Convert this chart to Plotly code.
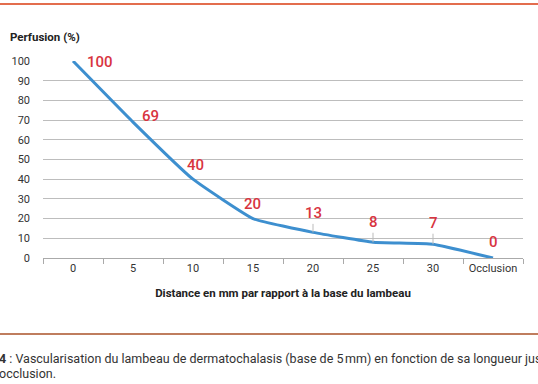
import plotly.graph_objects as go

categories = ["0", "5", "10", "15", "20", "25", "30", "Occlusion"]
perfusion = [100, 69, 40, 20, 13, 8, 7, 0]
y_ticks = [0, 10, 20, 30, 40, 50, 60, 70, 80, 90, 100]

W, H = 538, 384
L, R, T, B = 43, 15, 61, 126


def px_x(p):
    return (p - L) / (W - L - R)


def px_y(p):
    return (H - B - p) / (H - T - B)


fig = go.Figure()
fig.add_trace(go.Scatter(
    x=categories, y=perfusion, mode="lines",
    line=dict(color="#3d8fcf", width=3, shape="spline", smoothing=0.35),
    hoverinfo="skip", showlegend=False,
))

red = "#d8343f"
lbl_font = dict(family="Roboto", size=15, color=red, weight=500)
# labels offset to the right (no leader)
offsets = [(27, -1), (17, 6), (2, 14), (-1, 15)]
for i in range(4):
    fig.add_annotation(x=i, y=perfusion[i], xref="x", yref="y",
                       text=str(perfusion[i]), showarrow=False, font=lbl_font,
                       xshift=offsets[i][0], yshift=offsets[i][1])
# labels directly above with small grey leader
for i, ay in zip(range(4, 7), [-19, -20, -21]):
    fig.add_annotation(x=i, y=perfusion[i], xref="x", yref="y",
                       text=str(perfusion[i]), showarrow=True, arrowhead=0,
                       arrowwidth=1, arrowcolor="#bbbbbb", ax=0, ay=ay,
                       standoff=0, font=lbl_font)
fig.add_annotation(x=7, y=perfusion[7], xref="x", yref="y",
                   text=str(perfusion[7]), showarrow=False, font=lbl_font,
                   yshift=16)

# y-axis title
fig.add_annotation(x=px_x(8), y=px_y(37), xref="paper", yref="paper",
                   text="<b>Perfusion (%)</b>",
                   showarrow=False, xanchor="left", yanchor="middle",
                   font=dict(family="Roboto", size=11.5, color="#222"))

fig.update_layout(
    width=W, height=H, margin=dict(l=L, r=R, t=T, b=B),
    paper_bgcolor="white", plot_bgcolor="white",
    xaxis=dict(type="category", tickson="boundaries", ticks="outside", ticklen=5,
               tickcolor="#aaaaaa", showline=True, linecolor="#aaaaaa", linewidth=1,
               showgrid=False, tickfont=dict(family="Roboto", size=11, color="#333"),
               title=dict(text="<b>Distance en mm par rapport à la base du lambeau</b>",
                          font=dict(family="Roboto", size=11.5, color="#222"), standoff=14),
               range=[-0.5, 7.5], fixedrange=True),
    yaxis=dict(range=[0, 100], tickvals=y_ticks, showgrid=True, gridcolor="#bdbdbd",
               gridwidth=1, zeroline=False, showline=False,
               tickfont=dict(family="Roboto", size=11, color="#333"),
               ticklabelstandoff=12, fixedrange=True),
)

# decorative rules
fig.add_shape(type="line", xref="paper", yref="paper", x0=px_x(0), x1=px_x(W),
              y0=px_y(4), y1=px_y(4), line=dict(color="#e36d4e", width=2))
fig.add_shape(type="line", xref="paper", yref="paper", x0=px_x(0), x1=px_x(W),
              y0=px_y(334), y1=px_y(334), line=dict(color="#bf7d5e", width=2))

cap_font = dict(family="Roboto", size=12.5, color="#333")
fig.add_annotation(x=px_x(-3), y=px_y(358), xref="paper", yref="paper",
                   text="<b>4</b> : Vascularisation du lambeau de dermatochalasis (base de 5\u202fmm) en fonction de sa longueur jusqu'à",
                   showarrow=False, xanchor="left", yanchor="middle", font=cap_font)
fig.add_annotation(x=px_x(-3), y=px_y(373), xref="paper", yref="paper",
                   text="occlusion.", showarrow=False, xanchor="left", yanchor="middle",
                   font=cap_font)

fig.write_html("out.html", config={"displayModeBar": False},
               post_script="document.body.style.margin='0';document.body.style.overflow='hidden';")
